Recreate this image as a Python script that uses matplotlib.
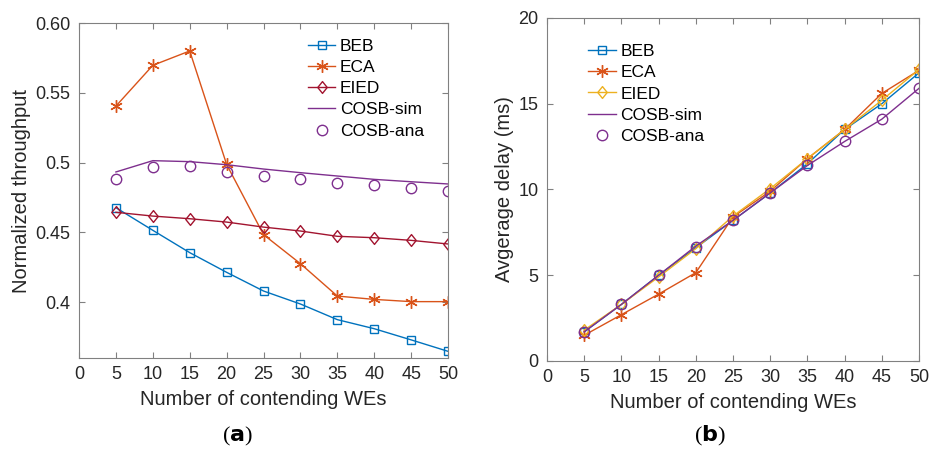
import matplotlib
matplotlib.use("Agg")
import matplotlib.pyplot as plt
from matplotlib.path import Path

x = [5, 10, 15, 20, 25, 30, 35, 40, 45, 50]

# (a) Normalized throughput
thr_beb = [0.4677, 0.4515, 0.4355, 0.4214, 0.408, 0.3987, 0.3875, 0.381, 0.373, 0.3648]
thr_eca = [0.5405, 0.5697, 0.580, 0.4987, 0.4484, 0.4276, 0.4044, 0.402, 0.4004, 0.4004]
thr_eied = [0.4644, 0.4617, 0.4598, 0.4574, 0.4538, 0.451, 0.4472, 0.4462, 0.4443, 0.4417]
thr_cosb_sim = [0.4933, 0.5014, 0.5007, 0.4985, 0.4954, 0.4928, 0.4904, 0.488, 0.4863, 0.4847]
thr_cosb_ana = [0.488, 0.4966, 0.4976, 0.493, 0.4904, 0.488, 0.4857, 0.4837, 0.4816, 0.4794]

# (b) Average delay (ms)
dly_beb = [1.7, 3.3, 5.0, 6.6, 8.2, 9.8, 11.5, 13.5, 15.0, 16.8]
dly_eca = [1.5, 2.7, 3.9, 5.15, 8.4, 9.9, 11.8, 13.5, 15.6, 16.95]
dly_eied = [1.8, 3.3, 4.9, 6.55, 8.45, 10.05, 11.8, 13.5, 15.2, 17.0]
dly_cosb_sim = [1.7, 3.3, 5.0, 6.7, 8.2, 9.8, 11.4, 12.8, 14.1, 15.9]
dly_cosb_ana = [1.7, 3.3, 5.0, 6.65, 8.2, 9.8, 11.4, 12.8, 14.1, 15.9]

labels = ["BEB", "ECA", "EIED", "COSB-sim", "COSB-ana"]
xticks = [0, 5, 10, 15, 20, 25, 30, 35, 40, 45, 50]

C_BEB = "#0072BD"
C_ECA = "#D95319"
C_EIED_A = "#A2142F"
C_EIED_B = "#EDB120"
C_COSB = "#7E2F8E"
TXT = "#262626"
AX = "#808080"

plt.rcParams["font.family"] = ["Liberation Sans", "DejaVu Sans"]
plt.rcParams["font.size"] = 13

fig = plt.figure(figsize=(9.33, 4.5), dpi=100)
ax1 = fig.add_axes([0.0847, 0.2044, 0.3955, 0.7444])
ax2 = fig.add_axes([0.5863, 0.1978, 0.3987, 0.7622])

def style(ax):
    for s in ax.spines.values():
        s.set_color(AX)
        s.set_linewidth(0.8)
    ax.tick_params(direction="in", top=True, right=True, colors=AX,
                   labelcolor=TXT, labelsize=13, length=4, width=0.8, pad=6)
    ax.set_xlim(0, 50)
    ax.set_xticks(xticks)
    ax.set_xlabel("Number of contending WEs", color=TXT, fontsize=14.5, labelpad=5)

ASTER = (6, 2, 0)
DIAM = Path([(0, 1), (0.8, 0), (0, -1), (-0.8, 0), (0, 1)],
            [Path.MOVETO, Path.LINETO, Path.LINETO, Path.LINETO, Path.CLOSEPOLY])
lw = 1.0
kw_sq = dict(marker="s", mfc="none", ms=6, mew=1.0)
kw_as = dict(marker=ASTER, ms=9, mew=1.0)
kw_di = dict(marker=DIAM, mfc="none", ms=8.5, mew=1.0)
kw_ci = dict(marker="o", mfc="none", ls="none", ms=7.5, mew=1.0)

leg_kw = dict(frameon=False, fontsize=12.5, handlelength=1.6, handletextpad=0.25,
              labelspacing=0.35, borderpad=0.3)

# Left
ax1.plot(x, thr_beb, color=C_BEB, lw=lw, label=labels[0], **kw_sq)
ax1.plot(x, thr_eca, color=C_ECA, lw=lw, label=labels[1], **kw_as)
ax1.plot(x, thr_eied, color=C_EIED_A, lw=lw, label=labels[2], **kw_di)
ax1.plot(x, thr_cosb_sim, color=C_COSB, lw=lw, label=labels[3])
ax1.plot(x, thr_cosb_ana, color=C_COSB, label=labels[4], **kw_ci)
style(ax1)
ax1.set_ylim(0.36, 0.60)
ax1.set_yticks([0.4, 0.45, 0.5, 0.55, 0.60])
ax1.set_yticklabels(["0.4", "0.45", "0.5", "0.55", "0.60"])
ax1.set_ylabel("Normalized throughput", color=TXT, fontsize=14.5, labelpad=3)
ax1.legend(loc="upper left", bbox_to_anchor=(0.582, 0.995), **leg_kw)

# Right
ax2.plot(x, dly_beb, color=C_BEB, lw=lw, label=labels[0], **kw_sq)
ax2.plot(x, dly_eca, color=C_ECA, lw=lw, label=labels[1], **kw_as)
ax2.plot(x, dly_eied, color=C_EIED_B, lw=lw, label=labels[2], **kw_di)
ax2.plot(x, dly_cosb_sim, color=C_COSB, lw=lw, label=labels[3])
ax2.plot(x, dly_cosb_ana, color=C_COSB, label=labels[4], **kw_ci)
style(ax2)
ax2.set_ylim(0, 20)
ax2.set_yticks([0, 5, 10, 15, 20])
ax2.set_ylabel("Avgerage delay (ms)", color=TXT, fontsize=14.5, labelpad=3)
ax2.legend(loc="upper left", bbox_to_anchor=(0.074, 0.965), **leg_kw)

cap = dict(family=["Liberation Serif", "DejaVu Serif"], fontsize=16, color="black",
           ha="center", va="center")
fig.text(237 / 933, 1 - 436 / 450, r"($\mathbf{a}$)", **cap)
fig.text(710 / 933, 1 - 436 / 450, r"($\mathbf{b}$)", **cap)

fig.savefig("out.png", dpi=100)
